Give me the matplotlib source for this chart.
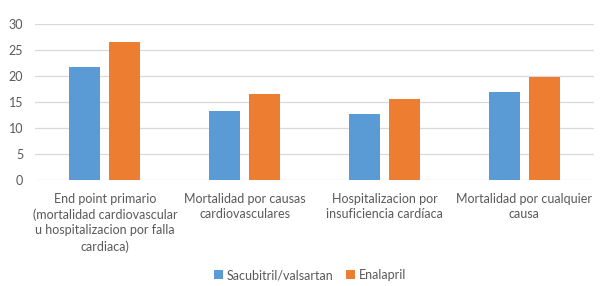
import numpy as np
import matplotlib.pyplot as plt

categories = [
    "End point primario\n(mortalidad cardiovascular\nu hospitalizacion por falla\ncardiaca)",
    "Mortalidad por causas\ncardiovasculares",
    "Hospitalizacion por\ninsuficiencia cardíaca",
    "Mortalidad por cualquier\ncausa",
]
sacubitril = [21.8, 13.3, 12.8, 17.0]
enalapril = [26.5, 16.5, 15.6, 19.8]
series_names = ["Sacubitril/valsartan", "Enalapril"]

plt.rcParams['font.family'] = ['Lato', 'DejaVu Sans']
gray = '#595959'

fig = plt.figure(figsize=(6.09, 2.86), dpi=100)
ax = fig.add_axes([0.0575, 0.370, 0.918, 0.545])

x = np.arange(len(categories))
w = 0.222
off = 0.143
ax.bar(x - off, sacubitril, w, color='#5B9BD5', label=series_names[0], zorder=3)
ax.bar(x + off, enalapril, w, color='#ED7D31', label=series_names[1], zorder=3)

ax.set_xlim(-0.5, len(categories) - 0.5)
ax.set_ylim(0, 30)
ax.set_yticks(range(0, 31, 5))
ax.grid(axis='y', color='#d9d9d9', lw=0.9, zorder=0)
for s in ax.spines.values():
    s.set_visible(False)
ax.tick_params(axis='both', length=0, colors=gray, labelsize=9)
ax.tick_params(axis='y', pad=8.5)
ax.set_xticks(x)
ax.set_xticklabels(categories, linespacing=1.35)
ax.tick_params(axis='x', pad=9)

ax.legend(loc='lower center', bbox_to_anchor=(0.492, -0.72), ncol=2, frameon=False,
          fontsize=9, labelcolor=gray, handlelength=0.7, handleheight=0.7,
          handletextpad=0.3, columnspacing=1.0)

fig.savefig('out.png', dpi=100)
